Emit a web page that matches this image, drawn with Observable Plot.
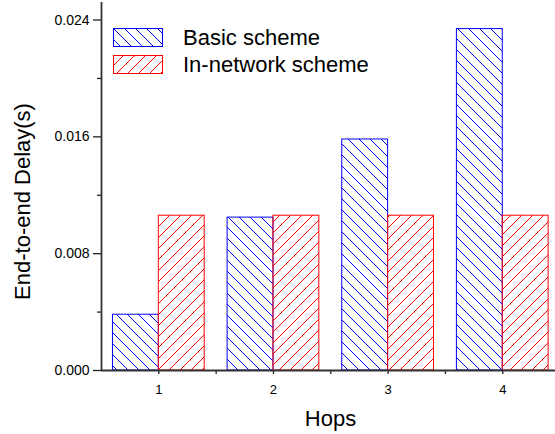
<!DOCTYPE html>
<html><head><meta charset="utf-8">
<script src="https://cdn.jsdelivr.net/npm/d3@7"></script>
<script src="https://cdn.jsdelivr.net/npm/@observablehq/plot@0.6"></script>
<style>
body{margin:0;background:#fff;font-family:"Liberation Sans",Arial,sans-serif;}
#wrap{position:relative;width:555px;height:434px;}
.legend{position:absolute;left:113px;top:24px;}
.item{display:flex;align-items:center;height:27px;font-size:22px;color:#000;line-height:1}
.item svg{margin-right:20px;display:block}
</style></head><body><div id="wrap"></div>
<script>
const hops = [1, 2, 3, 4];
const basicDelay = [0.00382, 0.01047, 0.01582, 0.02338];
const innetDelay = [0.0106, 0.0106, 0.0106, 0.0106];
const seriesNames = ["Basic scheme", "In-network scheme"];
const yMajorTicks = [0, 0.008, 0.016, 0.024];
const yMinorTicks = [0.004, 0.012, 0.020];
const xMinorTicks = [1.5, 2.5, 3.5];
const xTitle = "Hops";
const yTitle = "End-to-end Delay(s)";

const P = 11;
const defs = `<defs>
<pattern id="hBlue" patternUnits="userSpaceOnUse" width="${P}" height="${P}">
<path d="M0,0L${P},${P}M-1,${P-1}L1,${P+1}M${P-1},-1L${P+1},1" fill="none" stroke="#0000ff" stroke-width="1" shape-rendering="crispEdges"/></pattern>
<pattern id="hRed" patternUnits="userSpaceOnUse" width="${P}" height="${P}">
<path d="M0,${P}L${P},0M-1,1L1,-1M${P-1},${P+1}L${P+1},${P-1}" fill="none" stroke="#ff0000" stroke-width="1" shape-rendering="crispEdges"/></pattern>
</defs>`;

const basicRows = hops.map((h, i) => ({hop: h, value: basicDelay[i]}));
const innetRows = hops.map((h, i) => ({hop: h, value: innetDelay[i]}));
const W = 0.4;

const chart = Plot.plot({
  width: 555, height: 434,
  marginLeft: 101, marginRight: 0, marginTop: 2, marginBottom: 64,
  style: {fontFamily: '"Liberation Sans", Arial, sans-serif', color: "#000", background: "#fff"},
  x: {type: "linear", domain: [0.5, 4.46]},
  y: {domain: [0, 0.0252]},
  marks: [
    Plot.rect(basicRows, {x1: d => d.hop - W, x2: "hop", y1: 0, y2: "value", fill: "url(#hBlue)", stroke: "#0000ff", strokeWidth: 1}),
    Plot.rect(innetRows, {x1: "hop", x2: d => d.hop + W, y1: 0, y2: "value", fill: "url(#hRed)", stroke: "#ff0000", strokeWidth: 1}),
    Plot.axisY({ticks: yMajorTicks, text: null, tickSize: 8, label: null, strokeWidth: 1.3, stroke: "#222"}),
    Plot.axisY({ticks: yMinorTicks, text: null, tickSize: 4, label: null, strokeWidth: 1.3, stroke: "#222"}),
    Plot.text(yMajorTicks, {x: 0.5, y: d => d, text: d3.format(".3f"), textAnchor: "end", dx: -12, fontSize: 14, fill: "#000"}),
    Plot.axisX({ticks: hops, text: null, tickSize: 4, label: null, strokeWidth: 1.3, stroke: "#222"}),
    Plot.axisX({ticks: xMinorTicks, text: null, tickSize: 4, label: null, strokeWidth: 1.3, stroke: "#222"}),
    Plot.text(hops, {x: d => d, y: 0, text: d3.format("d"), lineAnchor: "top", dy: 14, fontSize: 13, fill: "#000"}),
    Plot.ruleY([0], {stroke: "#333", strokeWidth: 1.8}),
    Plot.ruleX([0.5], {stroke: "#333", strokeWidth: 1.8}),
    Plot.text([yTitle], {frameAnchor: "left", textAnchor: "middle", rotate: -90, dx: -79, dy: 15, fontSize: 22, fill: "#000"}),
    Plot.text([xTitle], {frameAnchor: "bottom", dx: 2, dy: 55, fontSize: 22, fill: "#000"})
  ]
});
chart.insertAdjacentHTML("afterbegin", defs);
const wrap = document.getElementById("wrap");
wrap.appendChild(chart);

const legend = document.createElement("div");
legend.className = "legend";
const fills = ["url(#hBlue)", "url(#hRed)"];
const strokes = ["#0000ff", "#ff0000"];
seriesNames.forEach((name, i) => {
  const it = document.createElement("div");
  it.className = "item";
  it.innerHTML = `<svg width="50" height="20"><rect x="0.5" y="0.5" width="49" height="18" fill="${fills[i]}" stroke="${strokes[i]}" stroke-width="1"/></svg><span>${name}</span>`;
  legend.appendChild(it);
});
wrap.appendChild(legend);
</script>
</body></html>
